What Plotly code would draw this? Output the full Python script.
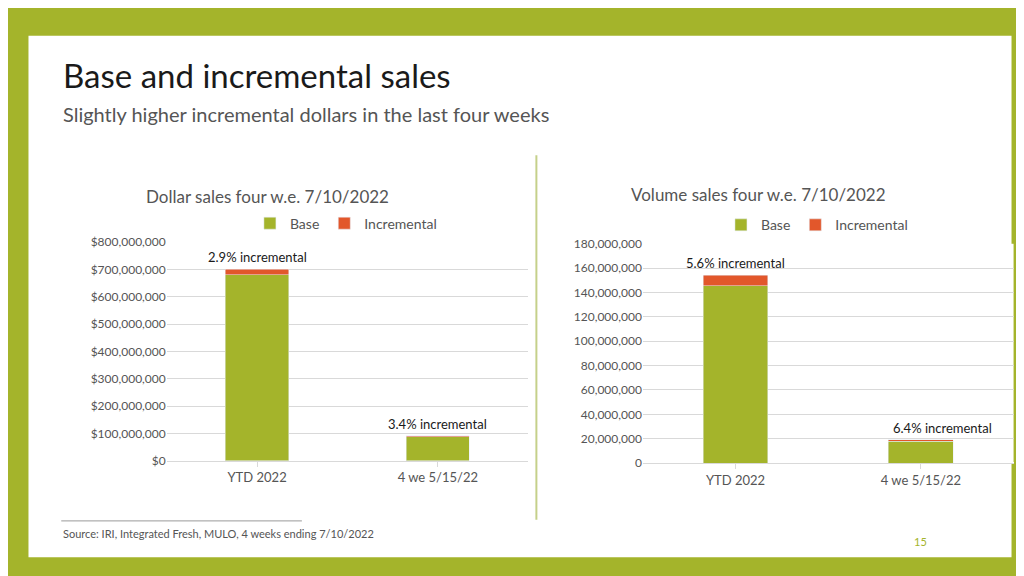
import plotly.graph_objects as go

categories = ["YTD 2022", "4 we 5/15/22"]
dollar_base = [680_000_000, 89_000_000]
dollar_incr = [20_000_000, 3_100_000]
dollar_labels = ["2.9% incremental", "3.4% incremental"]
volume_base = [145_500_000, 17_800_000]
volume_incr = [8_600_000, 1_200_000]
volume_labels = ["5.6% incremental", "6.4% incremental"]

GREEN = "#A4B42B"
ORANGE = "#E2572B"
FONT = "Lato"

fig = go.Figure()
fig.add_bar(x=categories, y=dollar_base, name="Base", marker_color=GREEN, width=0.35,
            xaxis="x", yaxis="y", legend="legend")
fig.add_bar(x=categories, y=dollar_incr, name="Incremental", marker_color=ORANGE, width=0.35,
            xaxis="x", yaxis="y", legend="legend")
fig.add_bar(x=categories, y=volume_base, name="Base", marker_color=GREEN, width=0.35,
            xaxis="x2", yaxis="y2", legend="legend2")
fig.add_bar(x=categories, y=volume_incr, name="Incremental", marker_color=ORANGE, width=0.35,
            xaxis="x2", yaxis="y2", legend="legend2")

axis_font = dict(family=FONT, size=12, color="#555")
fig.update_layout(
    width=1024, height=576, margin=dict(l=0, r=0, t=0, b=0),
    paper_bgcolor=GREEN, plot_bgcolor="white", barmode="stack",
    font=dict(family=FONT, color="#404040"),
    xaxis=dict(domain=[0.155, 0.508], tickfont=dict(family=FONT, size=13, color="#555"),
               showline=True, linecolor="#d9d9d9", ticks="outside", tickcolor="#d9d9d9"),
    yaxis=dict(domain=[0.207, 0.597], range=[0, 800_000_000], dtick=100_000_000,
               tickprefix="$", tickformat=",d", tickfont=axis_font, gridcolor="#d9d9d9"),
    xaxis2=dict(domain=[0.62, 0.982], anchor="y2", tickfont=dict(family=FONT, size=13, color="#555"),
                showline=True, linecolor="#d9d9d9", ticks="outside", tickcolor="#d9d9d9"),
    yaxis2=dict(domain=[0.203, 0.594], anchor="x2", range=[0, 180_000_000], dtick=20_000_000,
                tickformat=",d", tickfont=axis_font, gridcolor="#d9d9d9"),
    legend=dict(orientation="h", x=0.33, y=0.63, xanchor="center", yanchor="middle",
                traceorder="normal", font=dict(size=14, color="#555"), bgcolor="rgba(0,0,0,0)"),
    legend2=dict(orientation="h", x=0.79, y=0.627, xanchor="center", yanchor="middle",
                 traceorder="normal", font=dict(size=14, color="#555"), bgcolor="rgba(0,0,0,0)"),
    shapes=[
        dict(type="rect", xref="paper", yref="paper", x0=0.02, x1=0.98, y0=0.035, y1=0.965,
             fillcolor="white", line_width=0, layer="below"),
        dict(type="line", xref="paper", yref="paper", x0=0.516, x1=0.516, y0=0.102, y1=0.752,
             line=dict(color="#C5D08A", width=2)),
        dict(type="line", xref="paper", yref="paper", x0=0.052, x1=0.287, y0=0.1, y1=0.1,
             line=dict(color="#999", width=1)),
    ],
)

ann = [
    dict(text="Base and incremental sales", x=0.052, y=0.895, font=dict(size=33, color="#1a1a1a")),
    dict(text="Slightly higher incremental dollars in the last four weeks", x=0.052, y=0.825,
         font=dict(size=20, color="#555")),
    dict(text="Dollar sales four w.e. 7/10/2022", x=0.133, y=0.678, font=dict(size=17, color="#555")),
    dict(text="Volume sales four w.e. 7/10/2022", x=0.606, y=0.681, font=dict(size=17, color="#555")),
    dict(text="Source: IRI, Integrated Fresh, MULO, 4 weeks ending 7/10/2022", x=0.052, y=0.077,
         font=dict(size=11, color="#555")),
    dict(text="15", x=0.883, y=0.063, font=dict(size=11, color=GREEN)),
]
for a in ann:
    fig.add_annotation(xref="paper", yref="paper", xanchor="left", yanchor="middle",
                       showarrow=False, **a)

for i, lab in enumerate(dollar_labels):
    fig.add_annotation(x=categories[i], y=dollar_base[i] + dollar_incr[i], text=lab,
                       xref="x", yref="y", showarrow=False, yanchor="bottom", yshift=2,
                       font=dict(size=13, color="#1a1a1a"))
for i, lab in enumerate(volume_labels):
    fig.add_annotation(x=categories[i], y=volume_base[i] + volume_incr[i], text=lab,
                       xref="x2", yref="y2", showarrow=False, yanchor="bottom", yshift=2,
                       xshift=(0 if i == 0 else 22), font=dict(size=13, color="#1a1a1a"))

fig.write_html("out.html")
